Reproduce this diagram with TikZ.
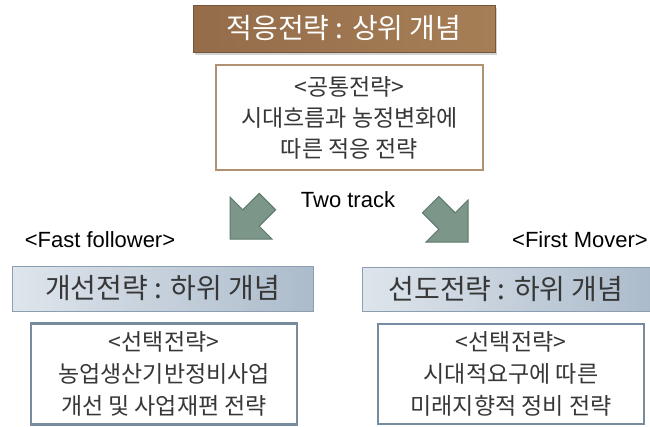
\documentclass[tikz,border=0pt]{standalone}
\usepackage{fontspec}
\setmainfont{Noto Sans CJK KR}
\newfontfamily\latfont{Liberation Sans}
\usetikzlibrary{shadows}
\definecolor{brownA}{RGB}{148,108,74}
\definecolor{brownB}{RGB}{166,126,86}
\definecolor{tanline}{RGB}{176,146,115}
\definecolor{blueA}{RGB}{222,229,236}
\definecolor{blueB}{RGB}{172,187,203}
\definecolor{blueline}{RGB}{140,159,178}
\definecolor{boxline}{RGB}{120,140,160}
\definecolor{arrowfill}{RGB}{125,150,138}
\definecolor{arrowline}{RGB}{95,120,108}
\definecolor{txt}{RGB}{55,55,55}
\tikzset{
  topbanner/.style={rectangle, draw=brownA!80!black, left color=brownA, right color=brownB,
    text=white, font=\fontsize{28}{30}\selectfont, inner sep=0pt,
    drop shadow={shadow xshift=2pt, shadow yshift=-3pt, opacity=0.35}},
  commonbox/.style={rectangle, draw=tanline, line width=2pt, fill=white, text=txt,
    align=center, font=\fontsize{23}{31}\selectfont, inner sep=0pt},
  subbanner/.style={rectangle, draw=blueline, line width=1pt, left color=blueA, right color=blueB,
    text=txt, font=\fontsize{28}{30}\selectfont, inner sep=0pt},
  selbox/.style={rectangle, draw=boxline, line width=2.5pt, fill=white, text=txt,
    align=center, font=\fontsize{23}{32}\selectfont, inner sep=0pt},
  lbl/.style={text=black, font=\latfont\fontsize{22}{24}\selectfont, inner sep=0pt},
  blockarrow/.style={fill=arrowfill, draw=arrowline, line width=1pt, line join=miter}
}
\begin{document}
\begin{tikzpicture}[x=1pt,y=-1pt]
\useasboundingbox (0,0) rectangle (650,426);
% top banner
\node[topbanner, minimum width=302pt, minimum height=47pt] (top) at (344,28.5) {적응전략 : 상위 개념};
% common strategy box
\node[commonbox, minimum width=267pt, minimum height=105pt] (common) at (349.5,117.5)
  {<공통전략>\\시대흐름과 농정변화에\\따른 적응 전략};
% two track label
\node[lbl] (two) at (348,200) {Two track};
% arrows
\begin{scope}[shift={(230,239)}]
  \path[blockarrow] (0,0) -- (0,-42) -- (12.8,-29.2) -- (29.2,-45.6) -- (45.6,-29.2) -- (29.2,-12.8) -- (42,0) -- cycle;
\end{scope}
\begin{scope}[shift={(468,242)}]
  \path[blockarrow] (0,0) -- (0,-42) -- (-12.8,-29.2) -- (-29.2,-45.6) -- (-45.6,-29.2) -- (-29.2,-12.8) -- (-42,0) -- cycle;
\end{scope}
% track labels
\node[lbl] (fast) at (100,240) {<Fast follower>};
\node[lbl] (first) at (580,240) {<First Mover>};
% sub banners
\node[subbanner, minimum width=301pt, minimum height=45pt] (left) at (162.5,288.5) {개선전략 : 하위 개념};
\node[subbanner, minimum width=288pt, minimum height=44pt] (right) at (506,289) {선도전략 : 하위 개념};
% selection boxes
\node[selbox, minimum width=266pt, minimum height=101pt] (lbox) at (164,374)
  {<선택전략>\\농업생산기반정비사업\\개선 및 사업재편 전략};
\node[selbox, minimum width=266pt, minimum height=100pt] (rbox) at (511,374)
  {<선택전략>\\시대적요구에 따른\\미래지향적 정비 전략};
\end{tikzpicture}
\end{document}
